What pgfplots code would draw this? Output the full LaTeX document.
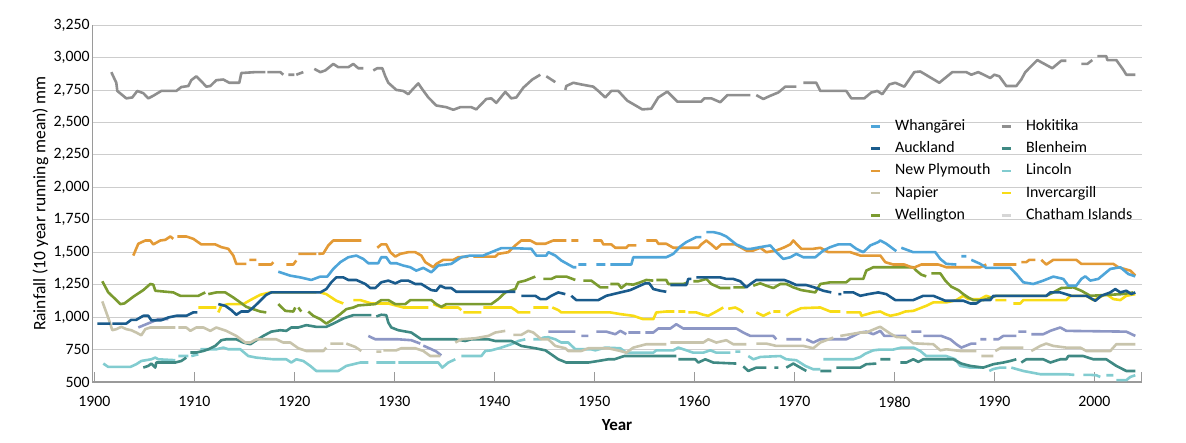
\documentclass[border=0pt]{standalone}
\usepackage{pgfplots}
\pgfplotsset{compat=1.18}
\usepackage{fontspec}
\setmainfont{Carlito}
\definecolor{whan}{HTML}{4EA5D9}
\definecolor{auck}{HTML}{1A5B8C}
\definecolor{newp}{HTML}{E39A36}
\definecolor{napi}{HTML}{C8C4AC}
\definecolor{well}{HTML}{7B9B30}
\definecolor{hoki}{HTML}{8F8F8F}
\definecolor{blen}{HTML}{3F8983}
\definecolor{linc}{HTML}{82CCD0}
\definecolor{inve}{HTML}{F8DC16}
\definecolor{chat}{HTML}{D6D6D6}
\definecolor{lav}{HTML}{8D97C5}
\definecolor{gridc}{HTML}{CDCDCD}
\definecolor{axc}{HTML}{9A9A9A}
\newcommand{\fs}{\fontsize{15.8bp}{18bp}\selectfont}
\newcommand{\fl}{\fontsize{15.9bp}{18bp}\selectfont}
\newcommand{\fy}{\fontsize{17.5bp}{20bp}\selectfont}
\newcommand{\fx}{\fontsize{17bp}{20bp}\selectfont}
\begin{document}
\begin{tikzpicture}
\useasboundingbox (0,0) rectangle (1186bp,-443bp);
\begin{axis}[
  at={(92.3bp,-382bp)}, anchor=south west,
  scale only axis, width=1049.4bp, height=357bp,
  xmin=1899.8, xmax=2004.74, ymin=500, ymax=3250,
  axis x line=bottom, axis y line=left,
  axis line style={draw=axc, line width=1.2bp, -},
  xtick={1900,1910,...,2000},
  extra x ticks={2004.74}, extra x tick labels={},
  ytick={500,750,...,3250},
  ymajorgrids, grid style={draw=gridc, line width=0.7bp},
  tick align=inside, major tick length=10bp,
  xtick style={draw=axc, line width=1.1bp},
  ytick style={draw=none},
  /pgf/number format/assume math mode=true,
  tick label style={font=\fs},
  xticklabel style={/pgf/number format/1000 sep={}, anchor=center, yshift=-19.7bp},
  yticklabel style={anchor=east, inner sep=0pt, xshift=-2.5bp},
  ylabel={Rainfall (10 year running mean) mm},
  ylabel style={font=\fy, anchor=center, at={(axis description cs:-0.0495,0.5)}},
  xlabel={\textbf{Year}},
  xlabel style={font=\fx, anchor=center, at={(axis description cs:0.5,-0.1204)}},
  unbounded coords=jump,
  every axis plot/.append style={line width=2.6bp, line join=round},
  legend image code/.code={\draw[#1, line width=2.6bp] (0bp,0bp) -- (9.5bp,0bp);},
  legend columns=2,
  legend cell align=left,
  legend style={font=\fl, draw=none, fill=none, inner sep=0pt,
    at={(axis description cs:0.7405,0.7367)}, anchor=north west,
    nodes={inner sep=0pt, text height=11bp, text depth=3bp},
    row sep=8.3bp,
    /tikz/every odd column/.append style={column sep=13.5bp},
    /tikz/every even column/.append style={column sep=10bp}},
]
% Hokitika
\addplot[hoki, forget plot] coordinates {(1901.7,2887) (1902.2,2805) (1902.3,2742) (1903.2,2685) (1903.8,2692) (1904.3,2742) (1904.9,2725) (1905.4,2685) (1905.9,2705) (1906.7,2742) (1908.2,2742) (1908.7,2772) (1909.4,2780) (1909.7,2825) (1910.2,2855) (1910.7,2817) (1911.2,2775) (1911.6,2780) (1912.2,2825) (1912.9,2830) (1913.5,2805) (1914.5,2805) (1914.7,2880) (1916.1,2887) (1917.1,2887) (1917.15,nan) (1917.3,2887) (1918.6,2887) (1918.9,2867) (1919.0,nan) (1919.4,2867) (1920.0,2867) (1920.1,nan) (1920.2,2867) (1920.9,2887) (1921.4,nan) (1922.0,2912) (1922.6,2887) (1923.1,2900) (1923.9,2950) (1924.4,2925) (1925.4,2925) (1925.9,2950) (1926.4,2917) (1926.9,2917) (1927.4,nan) (1927.9,2900) (1928.3,2917) (1928.8,2917) (1929.1,2855) (1929.4,2805) (1930.2,2750) (1930.9,2742) (1931.4,2717) (1931.9,2760) (1932.4,2800) (1932.8,2755) (1933.4,2692) (1934.2,2630) (1935.2,2617) (1935.9,2597) (1936.6,2617) (1937.7,2617) (1938.2,2600) (1939.2,2680) (1939.7,2685) (1940.2,2650) (1941.1,2735) (1941.7,2685) (1942.2,2692) (1942.9,2767) (1943.8,2830) (1944.6,2867) (1944.9,nan) (1945.2,2855) (1946.1,2810) (1946.6,nan) (1947.1,2750) (1947.2,2780) (1947.9,2805) (1948.7,2792) (1949.9,2775) (1950.4,2742) (1951.1,2692) (1951.7,2742) (1952.4,2742) (1953.3,2667) (1954.8,2600) (1955.7,2605) (1956.4,2692) (1957.3,2737) (1958.3,2660) (1960.7,2660) (1961.0,2685) (1961.7,2685) (1962.6,2655) (1963.3,2710) (1965.6,2710) (1965.9,nan) (1966.2,2710) (1966.9,2680) (1967.6,2705) (1968.4,2730) (1969.1,2775) (1970.2,2775) (1970.5,nan) (1970.9,2805) (1972.2,2805) (1972.6,2742) (1975.2,2742) (1975.7,2685) (1977.0,2685) (1977.7,2730) (1978.3,2742) (1978.8,2717) (1979.5,2792) (1980.1,2805) (1981.0,2775) (1982.0,2887) (1982.6,2892) (1984.5,2805) (1985.8,2887) (1987.2,2887) (1987.7,2867) (1988.4,2887) (1989.6,2842) (1990.0,2867) (1990.5,2855) (1991.2,2780) (1992.2,2780) (1992.7,2830) (1993.1,2887) (1994.3,2980) (1995.8,2917) (1996.7,2975) (1997.2,2975) (1997.5,nan) (1998.7,2950) (1999.3,2950) (1999.8,2980) (2000.0,nan) (2000.3,3010) (2001.2,3010) (2001.3,2980) (2002.2,2980) (2002.9,2905) (2003.2,2867) (2004.1,2867)};
% Lavender (unlabelled)
\addplot[lav, forget plot] coordinates {(1904.4,920) (1905.6,958) (1906.4,984) (1907.4,984) (1907.5,nan) (1927.4,855) (1928.1,829) (1930.4,829) (1931.7,822) (1932.6,796) (1932.7,nan) (1932.9,780) (1933.5,760) (1934.2,735) (1934.7,705) (1935.0,nan) (1945.4,888) (1948.1,888) (1948.4,nan) (1948.7,855) (1949.4,855) (1949.8,nan) (1950.2,888) (1951.2,888) (1952.1,868) (1952.6,894) (1953.2,868) (1953.3,nan) (1953.4,881) (1954.6,881) (1954.9,nan) (1955.1,881) (1955.9,881) (1956.4,912) (1957.6,912) (1958.2,945) (1958.9,912) (1964.2,912) (1964.9,881) (1965.6,855) (1967.9,855) (1968.2,829) (1968.6,nan) (1969.2,829) (1970.7,829) (1971.0,nan) (1971.2,829) (1971.9,804) (1972.6,829) (1975.2,829) (1975.9,855) (1976.6,881) (1977.2,888) (1977.9,868) (1978.6,894) (1979.0,855) (1981.2,855) (1981.5,nan) (1981.7,888) (1982.7,888) (1982.8,nan) (1982.9,855) (1984.7,855) (1985.6,829) (1986.2,791) (1986.7,765) (1987.7,796) (1988.2,796) (1988.4,nan) (1988.6,829) (1989.2,829) (1989.6,nan) (1989.9,829) (1990.4,829) (1990.9,855) (1992.2,855) (1992.3,nan) (1992.4,888) (1993.2,888) (1993.5,nan) (1993.7,868) (1994.9,868) (1995.6,894) (1996.6,920) (1997.2,894) (2003.2,888) (2004.1,855)};
% Lincoln
\addplot[linc, forget plot] coordinates {(1900.9,642) (1901.4,616) (1903.6,616) (1904.2,637) (1904.7,662) (1905.7,675) (1906.1,688) (1906.4,675) (1908.1,668) (1908.25,nan) (1908.4,700) (1909.4,700) (1909.5,nan) (1909.7,700) (1910.4,713) (1910.5,nan) (1910.6,752) (1912.2,752) (1912.9,765) (1913.4,752) (1914.6,752) (1915.4,700) (1916.2,688) (1917.9,675) (1919.2,675) (1919.7,650) (1920.2,675) (1920.9,662) (1921.6,624) (1922.2,585) (1924.4,585) (1925.2,624) (1926.6,650) (1927.4,650) (1927.8,nan) (1928.2,650) (1930.1,650) (1930.25,nan) (1930.4,650) (1934.4,650) (1934.8,611) (1935.4,650) (1936.1,675) (1936.4,nan) (1936.7,700) (1938.7,700) (1939.1,739) (1939.7,744) (1940.7,765) (1941.7,791) (1942.4,816) (1943.1,829) (1943.5,nan) (1943.9,829) (1944.6,829) (1944.9,842) (1945.4,845) (1946.1,829) (1946.7,804) (1947.4,804) (1948.1,752) (1949.7,752) (1950.1,744) (1951.1,765) (1952.6,760) (1953.2,726) (1955.9,726) (1956.2,744) (1957.9,744) (1958.4,765) (1958.9,752) (1959.9,726) (1960.9,726) (1961.6,744) (1962.2,726) (1963.6,726) (1963.8,nan) (1964.1,734) (1964.6,734) (1964.9,nan) (1965.4,700) (1965.9,675) (1966.6,693) (1968.6,700) (1969.2,675) (1970.2,668) (1971.1,624) (1971.9,598) (1972.6,598) (1972.7,nan) (1972.9,675) (1975.9,675) (1976.6,693) (1977.1,718) (1977.9,744) (1978.6,750) (1979.9,750) (1980.7,765) (1981.9,765) (1982.6,739) (1983.2,700) (1985.2,700) (1986.1,675) (1986.6,624) (1987.6,611) (1988.9,611) (1989.2,nan) (1989.5,585) (1989.9,600) (1990.6,611) (1991.2,611) (1991.4,nan) (1991.7,611) (1992.9,585) (1994.6,560) (1997.2,560) (1998.0,555) (1998.3,nan) (1998.9,555) (1999.6,555) (2000.2,552) (2000.6,539) (2000.8,nan) (2001.2,552) (2001.9,552) (2002.0,nan) (2002.2,514) (2003.2,514) (2003.6,539) (2004.1,552)};
% Blenheim
\addplot[blen, forget plot] coordinates {(1904.9,611) (1905.4,624) (1905.7,642) (1906.1,611) (1906.2,650) (1908.1,650) (1908.7,662) (1909.2,688) (1909.4,nan) (1909.6,727) (1910.2,727) (1910.9,739) (1911.4,752) (1912.1,778) (1912.7,822) (1913.2,829) (1914.2,829) (1914.9,804) (1915.6,791) (1916.1,816) (1916.9,855) (1917.7,888) (1918.6,899) (1919.2,894) (1919.7,920) (1920.4,920) (1921.2,938) (1922.2,925) (1923.2,925) (1923.9,950) (1924.9,989) (1925.9,1015) (1927.7,1015) (1927.9,nan) (1928.2,1005) (1928.7,1018) (1929.2,1015) (1929.4,958) (1929.7,920) (1930.4,899) (1931.7,881) (1932.7,829) (1936.1,829) (1937.1,816) (1937.7,829) (1939.4,829) (1940.1,816) (1941.7,816) (1942.7,778) (1944.1,760) (1945.1,744) (1945.7,713) (1946.4,675) (1947.2,650) (1949.4,650) (1950.4,662) (1951.4,675) (1952.0,675) (1952.7,693) (1953.0,700) (1958.2,700) (1958.3,nan) (1958.4,675) (1960.1,675) (1960.4,650) (1961.1,675) (1961.9,650) (1964.2,642) (1964.6,nan) (1964.9,620) (1965.4,585) (1966.2,611) (1967.2,611) (1967.5,nan) (1968.0,611) (1968.4,611) (1968.7,nan) (1969.2,611) (1969.9,642) (1970.6,611) (1971.2,585) (1971.6,nan) (1972.6,585) (1973.7,585) (1974.0,nan) (1974.2,611) (1976.6,611) (1977.2,637) (1978.2,642) (1978.4,nan) (1978.6,675) (1979.6,675) (1980.1,nan) (1980.6,650) (1981.2,650) (1981.9,675) (1982.4,655) (1982.9,675) (1985.9,675) (1986.7,642) (1987.6,624) (1988.9,611) (1989.9,637) (1990.9,650) (1991.6,662) (1992.2,675) (1992.4,nan) (1992.7,650) (1993.2,675) (1994.9,675) (1995.6,650) (1996.6,675) (1997.2,675) (1997.4,700) (1998.9,700) (1999.9,675) (2001.2,675) (2002.2,624) (2003.2,585) (2004.1,585)};
% Napier
\addplot[napi, forget plot] coordinates {(1900.8,1121) (1901.2,1036) (1901.5,971) (1901.8,899) (1902.2,907) (1902.7,925) (1903.2,907) (1903.7,899) (1904.2,881) (1904.7,860) (1905.1,907) (1905.6,920) (1908.1,920) (1908.25,nan) (1908.4,920) (1909.2,920) (1909.6,894) (1910.2,920) (1910.9,920) (1911.6,894) (1912.2,920) (1913.2,894) (1914.2,855) (1915.1,804) (1915.6,804) (1916.2,829) (1918.2,829) (1918.9,804) (1919.6,804) (1920.4,760) (1921.2,739) (1922.9,739) (1923.2,765) (1923.4,nan) (1923.6,796) (1924.9,796) (1925.1,nan) (1925.2,796) (1926.1,770) (1926.7,739) (1927.0,nan) (1928.2,734) (1928.7,734) (1928.8,nan) (1928.9,744) (1930.2,744) (1930.7,760) (1932.1,760) (1932.9,739) (1933.6,700) (1934.6,700) (1935.0,nan) (1936.1,804) (1936.7,829) (1938.1,837) (1939.4,855) (1940.1,881) (1941.1,894) (1941.5,nan) (1941.9,863) (1942.7,863) (1943.4,894) (1943.9,881) (1944.7,829) (1945.4,829) (1946.1,778) (1947.1,760) (1947.4,739) (1948.7,739) (1949.4,760) (1951.4,760) (1952.6,739) (1953.2,726) (1953.9,765) (1955.2,791) (1957.2,791) (1957.4,nan) (1957.6,804) (1960.9,804) (1961.4,829) (1962.2,804) (1963.2,822) (1963.9,791) (1965.2,791) (1965.6,nan) (1966.2,796) (1967.2,796) (1968.2,778) (1970.9,778) (1971.9,760) (1972.6,804) (1973.2,822) (1973.9,842) (1974.2,nan) (1974.6,855) (1976.6,881) (1977.2,881) (1978.4,920) (1978.6,925) (1979.6,873) (1980.2,847) (1981.2,842) (1981.9,798) (1983.9,791) (1984.6,744) (1985.2,752) (1986.6,739) (1988.2,739) (1988.5,nan) (1988.7,700) (1989.9,700) (1990.0,nan) (1990.1,739) (1990.7,765) (1992.9,765) (1993.3,nan) (1993.7,739) (1994.6,778) (1995.2,796) (1995.9,778) (1997.2,765) (1998.6,765) (1999.2,739) (2001.6,739) (2002.2,791) (2004.1,791)};
% Invercargill
\addplot[inve, forget plot] coordinates {(1910.4,1074) (1912.2,1074) (1912.3,nan) (1912.4,1036) (1912.7,1087) (1913.4,1100) (1914.9,1100) (1915.6,1131) (1916.6,1172) (1917.6,1190) (1921.6,1190) (1922.2,1190) (1922.4,nan) (1922.6,1190) (1923.2,1177) (1924.2,1126) (1924.9,1105) (1925.3,nan) (1925.9,1131) (1926.6,1131) (1927.7,1105) (1929.4,1105) (1930.9,1074) (1933.4,1074) (1933.6,nan) (1933.9,1100) (1934.4,1085) (1934.7,1074) (1936.4,1074) (1936.7,1054) (1936.8,nan) (1936.9,1036) (1938.7,1036) (1938.8,nan) (1938.9,1074) (1941.7,1074) (1942.1,1054) (1942.4,1036) (1943.6,1036) (1943.75,nan) (1943.9,1074) (1945.4,1074) (1945.6,nan) (1945.8,1074) (1946.4,1054) (1946.7,1036) (1950.1,1036) (1951.6,1036) (1952.6,1023) (1953.9,1010) (1954.9,984) (1955.9,984) (1956.2,1036) (1957.2,1043) (1958.0,1043) (1958.2,nan) (1958.4,1043) (1959.1,1043) (1959.25,nan) (1959.4,1036) (1960.2,1036) (1960.9,1018) (1961.4,1010) (1962.2,1043) (1962.9,1074) (1963.1,nan) (1963.4,1064) (1964.1,1074) (1964.6,1054) (1964.9,1036) (1965.5,nan) (1966.2,1036) (1966.9,1010) (1967.6,1036) (1967.75,nan) (1967.9,1043) (1968.6,1043) (1968.9,nan) (1969.2,1010) (1969.7,1036) (1970.7,1069) (1972.6,1074) (1973.6,1043) (1974.6,1043) (1974.9,nan) (1975.2,1036) (1976.6,1036) (1976.7,1010) (1977.9,1036) (1978.6,1043) (1979.1,1023) (1979.6,1010) (1980.4,1023) (1981.1,1043) (1981.9,1048) (1983.2,1087) (1983.9,1113) (1985.2,1113) (1986.2,1131) (1986.9,1164) (1987.4,1139) (1988.6,1139) (1989.2,1164) (1989.7,1151) (1989.9,nan) (1990.1,1131) (1991.2,1131) (1991.6,nan) (1991.9,1105) (1992.6,1105) (1992.9,1131) (1997.2,1131) (1997.6,1164) (1999.2,1164) (1999.9,1131) (2001.2,1177) (2001.9,1139) (2002.6,1131) (2003.2,1164) (2004.1,1177)};
% Wellington
\addplot[well, forget plot] coordinates {(1900.8,1276) (1901.4,1190) (1902.1,1139) (1902.6,1100) (1903.0,1105) (1903.9,1157) (1904.9,1208) (1905.6,1255) (1905.9,1250) (1906.1,1203) (1907.9,1190) (1908.6,1164) (1910.4,1164) (1911.1,1190) (1911.2,nan) (1911.4,1177) (1912.2,1190) (1913.1,1190) (1913.9,1151) (1914.6,1113) (1915.2,1079) (1915.9,1061) (1916.6,1043) (1917.2,1036) (1917.6,nan) (1918.4,1100) (1919.1,1048) (1919.9,1043) (1920.1,1074) (1920.2,nan) (1920.4,1074) (1920.7,1043) (1921.0,nan) (1921.4,1043) (1921.9,1010) (1922.6,984) (1923.2,950) (1923.9,984) (1924.6,1023) (1925.2,1061) (1925.9,1074) (1926.4,1090) (1928.1,1100) (1928.7,1131) (1929.4,1131) (1930.1,1100) (1931.1,1100) (1931.6,1131) (1933.7,1131) (1934.2,1100) (1934.7,1079) (1935.2,1100) (1939.7,1100) (1940.4,1139) (1941.1,1190) (1942.1,1216) (1942.4,1268) (1943.1,1281) (1944.1,1312) (1944.5,nan) (1944.9,1294) (1945.7,1294) (1946.2,1312) (1947.2,1312) (1948.1,1286) (1948.5,nan) (1948.9,1281) (1949.7,1281) (1950.6,1229) (1951.4,1229) (1951.5,nan) (1951.6,1255) (1952.4,1255) (1952.7,1224) (1953.2,1255) (1953.9,1250) (1954.6,1268) (1955.2,1286) (1955.9,1281) (1956.0,nan) (1956.2,1286) (1957.2,1286) (1957.4,1255) (1958.9,1255) (1959.4,1268) (1959.6,nan) (1959.9,1276) (1960.4,1276) (1961.2,1294) (1961.7,1255) (1962.6,1224) (1963.6,1224) (1963.8,nan) (1963.9,1229) (1965.1,1229) (1965.5,nan) (1965.9,1242) (1966.6,1260) (1967.2,1242) (1967.9,1224) (1968.6,1255) (1969.2,1255) (1969.9,1229) (1970.7,1208) (1972.1,1190) (1972.6,1255) (1973.6,1268) (1975.2,1268) (1975.6,1294) (1976.9,1294) (1977.2,1358) (1977.9,1384) (1981.9,1384) (1982.2,1358) (1982.7,1327) (1983.2,1314) (1983.5,nan) (1983.7,1337) (1984.6,1337) (1985.1,1281) (1985.7,1234) (1986.4,1208) (1986.9,1177) (1987.4,1151) (1987.9,1131) (1988.9,1131) (1990.2,1164) (1995.2,1164) (1995.9,1190) (1996.7,1224) (1997.9,1229) (1998.7,1203) (1999.6,1164) (2002.8,1177) (2003.9,1190)};
% Auckland
\addplot[auck, forget plot] coordinates {(1900.3,950) (1901.6,950) (1901.7,nan) (1901.8,950) (1903.2,950) (1903.7,979) (1904.2,979) (1904.9,1010) (1905.4,1010) (1905.7,976) (1906.7,976) (1907.4,997) (1908.2,1010) (1909.2,1010) (1909.9,1036) (1910.3,1036) (1910.5,nan) (1912.4,1100) (1913.1,1087) (1913.7,1054) (1914.2,1018) (1914.7,1043) (1915.4,1043) (1915.9,1074) (1916.6,1126) (1917.2,1172) (1917.7,1190) (1922.6,1190) (1923.2,1216) (1923.7,1268) (1924.2,1306) (1924.9,1306) (1925.4,1286) (1926.2,1286) (1927.1,1255) (1927.6,1224) (1928.1,1224) (1928.7,1268) (1929.4,1281) (1930.1,1260) (1930.7,1281) (1931.4,1281) (1932.1,1255) (1932.7,1255) (1933.7,1208) (1934.2,1203) (1934.6,1242) (1935.1,1224) (1935.7,1224) (1936.2,1195) (1942.1,1195) (1942.4,nan) (1942.7,1164) (1944.1,1164) (1944.6,1139) (1945.2,1139) (1945.7,1164) (1946.4,1190) (1947.1,1177) (1947.4,nan) (1947.7,1164) (1948.2,1131) (1950.4,1131) (1951.2,1164) (1952.6,1190) (1953.6,1208) (1954.2,1229) (1955.1,1260) (1955.5,1260) (1955.9,1216) (1956.6,1203) (1957.2,1195) (1957.4,nan) (1957.6,1247) (1959.2,1247) (1959.4,1294) (1959.7,1294) (1959.9,nan) (1960.2,1306) (1962.6,1306) (1963.2,1294) (1963.9,1294) (1964.6,1276) (1965.2,1229) (1965.7,1260) (1966.2,1286) (1969.0,1286) (1969.6,1268) (1970.2,1247) (1971.2,1247) (1972.2,1224) (1972.9,1203) (1973.7,1190) (1974.0,nan) (1974.4,1177) (1974.7,1177) (1974.8,nan) (1974.9,1190) (1975.9,1190) (1976.6,1164) (1977.4,1177) (1978.4,1190) (1979.2,1177) (1980.1,1131) (1981.9,1131) (1982.9,1164) (1983.9,1164) (1985.1,1126) (1986.9,1126) (1987.6,1105) (1988.2,1105) (1988.7,1131) (1989.6,1131) (1989.9,1164) (1995.2,1164) (1995.6,1190) (1996.6,1190) (1997.7,1164) (1999.2,1164) (2000.1,1126) (2000.7,1164) (2001.6,1190) (2002.1,1216) (2002.6,1190) (2003.2,1203) (2003.7,1177) (2004.1,1190)};
% New Plymouth
\addplot[newp, forget plot] coordinates {(1903.9,1474) (1904.4,1565) (1905.1,1590) (1905.6,1590) (1905.9,1560) (1906.6,1590) (1907.1,1595) (1907.6,1621) (1907.9,1603) (1908.1,nan) (1908.3,1621) (1909.2,1621) (1909.9,1603) (1910.7,1560) (1912.1,1560) (1912.7,1539) (1913.4,1526) (1913.9,1474) (1914.2,1410) (1915.2,1410) (1915.35,nan) (1915.5,1441) (1916.2,1441) (1916.3,nan) (1916.4,1405) (1917.7,1405) (1917.9,1423) (1918.1,nan) (1919.2,1405) (1919.9,1405) (1920.2,1436) (1920.3,nan) (1920.4,1487) (1922.2,1487) (1922.3,nan) (1922.4,1487) (1922.9,1490) (1923.4,1552) (1923.9,1590) (1926.7,1590) (1927.5,nan) (1928.3,1534) (1928.7,1560) (1929.2,1560) (1929.6,1500) (1930.1,1466) (1930.6,1487) (1931.4,1500) (1932.1,1500) (1932.7,1474) (1933.1,1423) (1933.9,1384) (1934.2,1410) (1934.9,1441) (1935.9,1441) (1936.4,1461) (1937.4,1466) (1937.6,nan) (1937.9,1466) (1940.1,1466) (1940.4,1487) (1941.4,1500) (1942.1,1552) (1942.7,1590) (1943.6,1590) (1944.2,1565) (1945.1,1565) (1945.9,1590) (1947.2,1590) (1947.4,nan) (1947.7,1590) (1948.4,1590) (1948.6,nan) (1949.9,1590) (1950.7,1590) (1950.9,1560) (1951.7,1560) (1952.1,1534) (1953.2,1534) (1953.4,1552) (1954.2,1552) (1954.6,nan) (1955.2,1590) (1956.2,1590) (1956.4,1565) (1957.2,1565) (1957.9,1534) (1960.4,1534) (1960.7,1560) (1961.2,1590) (1961.7,1560) (1962.2,1526) (1962.7,1560) (1964.1,1560) (1965.2,1513) (1965.9,1513) (1966.6,1534) (1967.2,1500) (1968.2,1513) (1968.9,1534) (1969.6,1560) (1969.9,1590) (1970.2,1565) (1970.7,1526) (1971.9,1526) (1972.6,1534) (1973.4,1500) (1975.6,1500) (1976.6,1474) (1978.6,1474) (1979.1,1423) (1979.9,1405) (1981.0,1405) (1981.9,1379) (1982.7,1405) (1984.4,1405) (1985.2,1384) (1988.6,1384) (1989.2,1405) (1989.5,nan) (1989.9,1405) (1992.2,1405) (1992.4,nan) (1992.7,1423) (1993.2,1423) (1993.5,1441) (1994.1,1441) (1994.4,nan) (1994.7,1441) (1995.2,1405) (1995.9,1441) (1998.2,1441) (1998.7,1410) (2001.9,1410) (2002.4,1384) (2003.6,1358) (2004.1,1320)};
% Whangarei
\addplot[whan, forget plot] coordinates {(1918.4,1350) (1919.6,1319) (1920.6,1306) (1921.7,1286) (1922.6,1312) (1923.3,1312) (1923.9,1371) (1924.6,1423) (1925.4,1461) (1926.2,1474) (1926.9,1448) (1927.4,1415) (1928.4,1415) (1928.7,1461) (1929.2,1461) (1929.6,1415) (1930.2,1415) (1930.9,1397) (1931.6,1384) (1932.2,1358) (1932.9,1379) (1933.7,1345) (1934.4,1397) (1935.7,1410) (1936.7,1461) (1937.6,1474) (1938.9,1474) (1939.7,1500) (1940.7,1531) (1941.7,1531) (1943.7,1526) (1944.2,1474) (1945.2,1474) (1945.4,1500) (1946.1,1474) (1946.7,1436) (1947.9,1384) (1948.2,1384) (1948.3,nan) (1948.4,1405) (1949.2,1405) (1949.5,nan) (1950.2,1405) (1951.1,1405) (1951.3,nan) (1951.6,1405) (1953.7,1405) (1953.9,1461) (1957.2,1461) (1957.9,1487) (1958.6,1544) (1959.2,1578) (1960.2,1616) (1960.7,1616) (1961.0,nan) (1961.2,1655) (1961.9,1655) (1962.6,1642) (1963.2,1621) (1964.2,1560) (1965.2,1526) (1965.7,1526) (1966.6,1539) (1967.6,1552) (1968.2,1500) (1968.9,1448) (1969.6,1461) (1970.2,1487) (1970.9,1461) (1972.1,1461) (1972.9,1513) (1973.6,1539) (1974.4,1560) (1975.6,1560) (1976.2,1526) (1976.9,1500) (1977.6,1552) (1978.4,1578) (1978.6,1590) (1979.2,1565) (1980.2,1508) (1980.4,nan) (1980.7,1534) (1981.9,1500) (1984.1,1500) (1984.6,1448) (1985.2,1410) (1986.2,1405) (1986.4,nan) (1986.7,1469) (1987.2,1469) (1987.4,nan) (1987.7,1441) (1988.6,1410) (1989.2,1379) (1991.6,1379) (1992.2,1332) (1992.9,1268) (1993.9,1255) (1994.9,1281) (1995.9,1312) (1996.9,1294) (1997.4,1242) (1998.2,1242) (1998.7,1294) (1999.1,1314) (1999.6,1281) (2000.4,1294) (2001.6,1371) (2002.6,1384) (2003.4,1332) (2004.1,1314)};
% legend
\addlegendimage{whan}\addlegendentry{Whangārei}
\addlegendimage{hoki}\addlegendentry{Hokitika}
\addlegendimage{auck}\addlegendentry{Auckland}
\addlegendimage{blen}\addlegendentry{Blenheim}
\addlegendimage{newp}\addlegendentry{New Plymouth}
\addlegendimage{linc}\addlegendentry{Lincoln}
\addlegendimage{napi}\addlegendentry{Napier}
\addlegendimage{inve}\addlegendentry{Invercargill}
\addlegendimage{well}\addlegendentry{Wellington}
\addlegendimage{chat}\addlegendentry{Chatham Islands}
\end{axis}
\end{tikzpicture}
\end{document}
